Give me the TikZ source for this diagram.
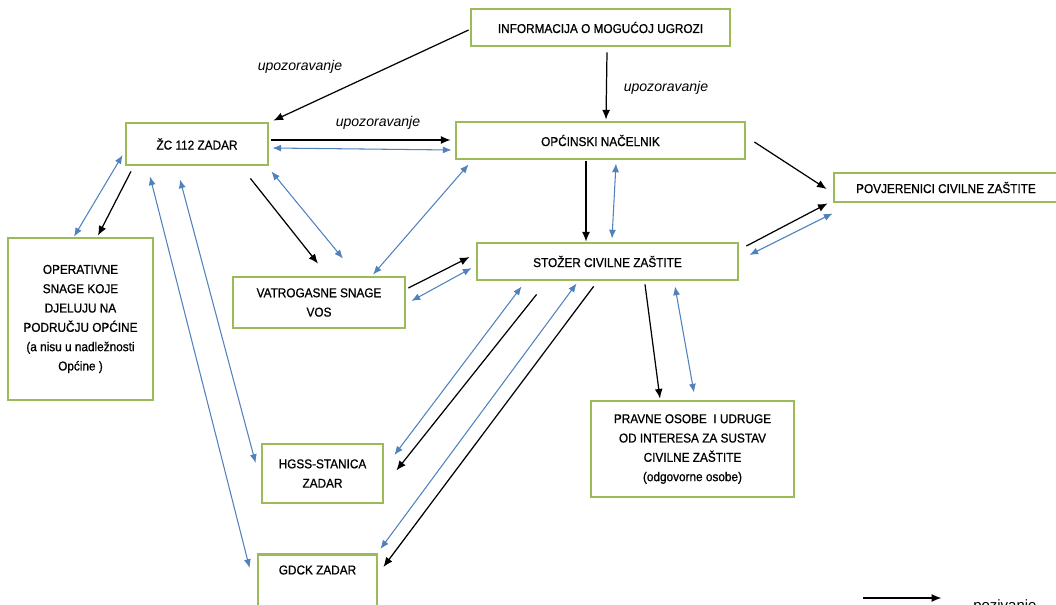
\documentclass[tikz,border=0pt]{standalone}
\usepackage{fontspec}
\setmainfont{Liberation Sans}
\newfontfamily\boxfont[FakeStretch=0.92, FakeBold=0.8]{Liberation Sans}
\usetikzlibrary{arrows.meta}

\definecolor{boxgreen}{RGB}{155,187,89}
\definecolor{linkblue}{RGB}{79,129,189}

\begin{document}
\begin{tikzpicture}[x=0.02cm, y=-0.02cm,
    box/.style={draw=boxgreen, line width=1.6pt, fill=white, inner sep=2pt, align=center,
      font=\boxfont\fontsize{7.3}{11}\selectfont},
    poziv/.style={-{Latex[length=5.5pt,width=4.5pt]}, line width=0.7pt, black},
    veza/.style={{Latex[length=5pt,width=4pt]}-{Latex[length=5pt,width=4pt]}, line width=0.6pt, linkblue},
    lbl/.style={font=\fontsize{8}{10}\selectfont\itshape}]
  \useasboundingbox (0,0) rectangle (1056,605);
  \clip (0,0) rectangle (1056,605);

  % boxes
  \node[box, minimum width=5.18cm, minimum height=0.74cm] (info) at (600.5,27.5) {INFORMACIJA O MOGUĆOJ UGROZI};
  \node[box, minimum width=2.84cm, minimum height=0.84cm] (zc) at (197,144) {ŽC 112 ZADAR};
  \node[box, minimum width=5.78cm, minimum height=0.74cm] (nac) at (600.5,140.5) {OPĆINSKI NAČELNIK};
  \node[box, minimum width=4.48cm, minimum height=0.58cm] (povj) at (946,187.5) {POVJERENICI CIVILNE ZAŠTITE};
  \node[box, minimum width=5.22cm, minimum height=0.74cm] (stozer) at (607.5,261.5) {STOŽER CIVILNE ZAŠTITE};
  \node[box, minimum width=2.90cm, minimum height=3.24cm] (oper) at (80.5,319)
    {OPERATIVNE\\SNAGE KOJE\\DJELUJU NA\\PODRUČJU OPĆINE\\(a nisu u nadležnosti\\Općine )};
  \node[box, minimum width=3.44cm, minimum height=1.02cm] (vatro) at (319,302.5) {VATROGASNE SNAGE\\VOS};
  \node[box, minimum width=2.42cm, minimum height=1.18cm] (hgss) at (322.5,473.5) {HGSS-STANICA\\ZADAR};
  \node[box, anchor=north, minimum width=2.38cm, inner ysep=0pt, text height=0.4cm, text depth=1.4cm] (gdck) at (317.5,553) {GDCK ZADAR};
  \node[box, minimum width=4.06cm, minimum height=1.92cm] (pravne) at (692.5,449)
    {PRAVNE OSOBE\ \ I UDRUGE\\OD INTERESA ZA SUSTAV\\CIVILNE ZAŠTITE\\(odgovorne osobe)};

  % labels
  \node[lbl] (lab1) at (300,67) {upozoravanje};
  \node[lbl] (lab2) at (378,123) {upozoravanje};
  \node[lbl] (lab3) at (666,88) {upozoravanje};

  % warning and calling (black)
  \draw[poziv] ([shift={(-1,2.5)}]info.west) -- ([shift={(4,-1)}]zc.north east);
  \draw[poziv] ([shift={(6.5,5)}]info.south) -- ([shift={(5.5,-1)}]nac.north);
  \draw[poziv] ([shift={(2,-4)}]zc.east) -- ([shift={(-4,-0.5)}]nac.west);
  \draw[poziv] ([shift={(-66,5)}]zc.south) -- ([shift={(17.5,-1)}]oper.north);
  \draw[poziv] ([shift={(-19,12)}]zc.south east) -- ([shift={(-1,-12)}]vatro.north);
  \draw[poziv] ([shift={(2,-14.5)}]vatro.east) -- ([shift={(-6,-4.5)}]stozer.west);
  \draw[poziv] ([shift={(-14.5,1)}]nac.south) -- ([shift={(-21.5,0)}]stozer.north);
  \draw[poziv] ([shift={(8,1.5)}]nac.east) -- ([shift={(-6,1.5)}]povj.west);
  \draw[poziv] ([shift={(7,-15.5)}]stozer.east) -- ([shift={(-5,0)}]povj.south west);
  \draw[poziv] ([shift={(37.5,3)}]stozer.south) -- ([shift={(-32.5,-1)}]pravne.north);
  \draw[poziv] ([shift={(61,13)}]stozer.south west) -- ([shift={(12,-3)}]hgss.east);
  \draw[poziv] ([shift={(118,5)}]stozer.south west) -- ([shift={(5,14)}]gdck.north east);

  % two-way links (blue)
  \draw[veza] ([shift={(3,4)}]zc.east) -- ([shift={(-3,9.5)}]nac.west);
  \draw[veza] ([shift={(-2,11)}]zc.west) -- ([shift={(-6.5,0)}]oper.north);
  \draw[veza] ([shift={(-47,10)}]zc.south) -- ([shift={(-7,15)}]gdck.north west);
  \draw[veza] ([shift={(-17,13)}]zc.south) -- ([shift={(-5,-10.5)}]hgss.west);
  \draw[veza] ([shift={(2,5)}]zc.south east) -- ([shift={(24,-17)}]vatro.north);
  \draw[veza] ([shift={(14,4)}]nac.south west) -- ([shift={(54,-1)}]vatro.north);
  \draw[veza] ([shift={(5,-1.5)}]vatro.east) -- ([shift={(-4,6.5)}]stozer.west);
  \draw[veza] ([shift={(15.5,3)}]nac.south) -- ([shift={(4.5,-3)}]stozer.north);
  \draw[veza] ([shift={(10,-6.5)}]stozer.east) -- ([shift={(0,10)}]povj.south west);
  \draw[veza] ([shift={(67.5,5)}]stozer.south) -- ([shift={(1.5,-7)}]pravne.north);
  \draw[veza] ([shift={(46,5)}]stozer.south west) -- ([shift={(10,-18.5)}]hgss.east);
  \draw[veza] ([shift={(101,2)}]stozer.south west) -- ([shift={(2,-4)}]gdck.north east);

  % legend
  \coordinate (legA) at (863,598);
  \node[anchor=base west, font=\fontsize{8.5}{10}\selectfont, inner sep=0pt] (legtxt) at (973,610) {pozivanje};
  \draw[poziv] (legA) -- ([xshift=-18]legtxt.west |- legA);
\end{tikzpicture}
\end{document}
